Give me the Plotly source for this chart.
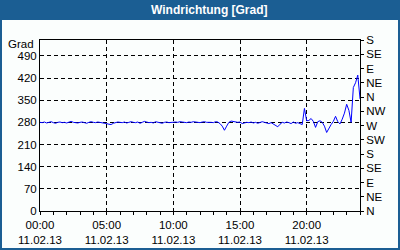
import plotly.graph_objects as go
import pandas as pd

# ---- data ----
start_time = "2013-02-11 00:00"
end_time = "2013-02-12 00:00"
wind_dir = [
    280, 279, 281, 278, 280, 282, 279, 277, 280, 281,
    279, 280, 278, 281, 283, 280, 279, 278, 280, 281,
    279, 277, 280, 282, 280, 279, 281, 280, 278, 279,
    276, 274, 273, 277, 280, 281,
    280, 279, 281, 278, 280, 282, 280, 279, 281, 277,
    280, 283, 281, 279, 280, 278, 282, 280, 279, 277,
    280, 281, 279, 280,
    282, 281, 280, 282, 281, 280, 279, 281, 280, 282,
    281, 280, 279, 281, 282, 280, 281, 280, 279, 282,
    281, 276, 268, 255, 268, 280, 284,
    282, 281, 280, 281,
    276, 278, 280, 279, 281, 278, 280, 277, 279, 282,
    280, 278, 276, 279, 275, 270, 266, 274, 280,
    278, 281, 279, 276, 281, 277, 279, 276, 273,
    324, 285, 286, 292, 283, 264, 282, 285, 280, 268,
    248, 262, 273, 283, 299, 282, 275, 290, 309, 337,
    318, 280, 390, 405, 429, 355, 362,
]
times = pd.date_range(start_time, periods=len(wind_dir), freq="10min")

left_ticks = [0, 70, 140, 210, 280, 350, 420, 490]
right_tickvals = [0, 45, 90, 135, 180, 225, 270, 315, 360, 405, 450, 495, 540]
right_ticktext = ["N", "NE", "E", "SE", "S", "SW", "W", "NW", "N", "NE", "E", "SE", "S"]
x_tick_hours = ["00:00", "05:00", "10:00", "15:00", "20:00"]
x_tick_date = "11.02.13"

FONT = "Liberation Sans"
FS = 11.5
BLUE = "#1b5e93"

fig = go.Figure()
fig.add_trace(go.Scatter(x=times, y=wind_dir, mode="lines",
                         line=dict(color="#0000ff", width=1),
                         showlegend=False, hoverinfo="skip"))
fig.add_trace(go.Scatter(x=times, y=wind_dir, mode="lines", yaxis="y2",
                         line=dict(color="rgba(0,0,0,0)", width=1),
                         showlegend=False, hoverinfo="skip"))

tickvals_x = [pd.Timestamp("2013-02-11 " + h) for h in x_tick_hours]
ticktext_x = [h + "<br>" + x_tick_date for h in x_tick_hours]

fig.update_layout(
    width=400, height=250,
    margin=dict(l=40, r=40, t=40, b=39),
    paper_bgcolor=BLUE, plot_bgcolor="white",
    font=dict(family=FONT, size=FS, color="black"),
    xaxis=dict(
        type="date", range=[start_time, end_time], automargin=False,
        tickvals=tickvals_x, ticktext=ticktext_x,
        showgrid=True, gridcolor="black", gridwidth=1, griddash="4px,3px",
        showline=True, linecolor="black", linewidth=1, mirror=True,
        ticks="outside", ticklen=3, tickcolor="black",
        minor=dict(dtick=3600000, ticks="outside", ticklen=3, tickcolor="black", showgrid=False),
        zeroline=False, tickangle=0,
    ),
    yaxis=dict(
        range=[0, 540], tickvals=left_ticks, automargin=False,
        showgrid=True, gridcolor="black", gridwidth=1, griddash="4px,3px",
        showline=True, linecolor="black", linewidth=1, mirror=True,
        ticks="", zeroline=False,
    ),
    yaxis2=dict(
        range=[0, 540], overlaying="y", side="right", automargin=False,
        tickvals=right_tickvals, ticktext=right_ticktext,
        showgrid=False, showline=True, linecolor="black", linewidth=1,
        ticks="outside", ticklen=3, tickcolor="black", zeroline=False,
    ),
    shapes=[dict(type="rect", xref="paper", yref="paper",
                 x0=-0.11875, x1=1.11875, y0=-0.2164, y1=1.11696,
                 fillcolor="#fbfefd", line=dict(width=0), layer="below")],
    annotations=[
        dict(text="<b>Windrichtung [Grad]</b>", xref="paper", yref="paper",
             x=0.5297, y=1.1754, xanchor="center", yanchor="middle",
             showarrow=False, font=dict(family=FONT, size=12, color="white")),
        dict(text="Grad", xref="paper", yref="paper",
             x=-0.0125, y=0.9795, xanchor="right", yanchor="middle",
             showarrow=False, font=dict(family=FONT, size=FS, color="black")),
    ],
)

fig.write_html("out.html")
